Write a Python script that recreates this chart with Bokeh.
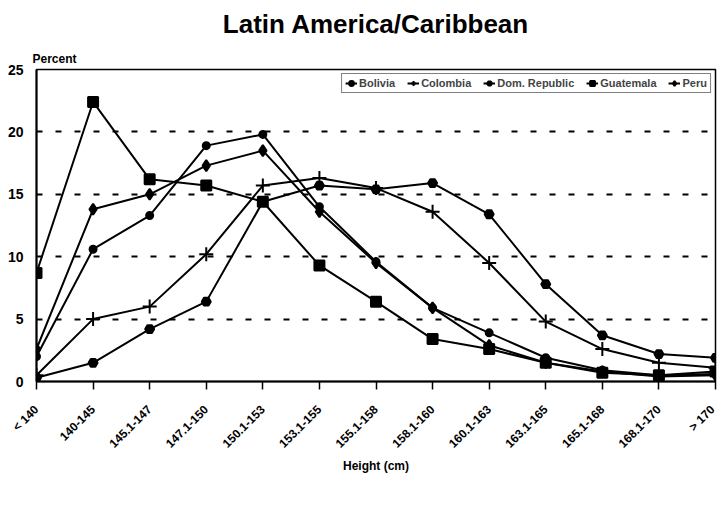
import math
from bokeh.plotting import figure
from bokeh.models import (Legend, LegendItem, FixedTicker, Range1d, Title)
from bokeh.embed import file_html
from bokeh.resources import INLINE

categories = ["< 140", "140-145", "145.1-147", "147.1-150", "150.1-153", "153.1-155",
              "155.1-158", "158.1-160", "160.1-163", "163.1-165", "165.1-168",
              "168.1-170", "> 170"]

bolivia = [2.0, 10.6, 13.3, 18.9, 19.8, 14.0, 9.6, 5.9, 3.9, 1.9, 0.9, 0.5, 0.6]
colombia = [0.5, 5.0, 6.0, 10.2, 15.7, 16.3, 15.5, 13.6, 9.5, 4.8, 2.6, 1.5, 1.1]
dom_republic = [0.3, 1.5, 4.2, 6.4, 14.4, 15.7, 15.4, 15.9, 13.4, 7.8, 3.7, 2.2, 1.9]
guatemala = [8.7, 22.4, 16.2, 15.7, 14.4, 9.3, 6.4, 3.4, 2.6, 1.5, 0.7, 0.5, 0.8]
peru = [2.6, 13.8, 15.0, 17.3, 18.5, 13.6, 9.5, 5.9, 2.9, 1.5, 0.8, 0.4, 0.5]

y_ticks = [0, 5, 10, 15, 20, 25]

FONT = "Liberation Sans"

x = list(range(len(categories)))

p = figure(frame_width=679, frame_height=312,
           output_backend="svg", toolbar_location=None,
           x_range=Range1d(0, len(categories) - 1), y_range=Range1d(0, 25),
           min_border_left=36, min_border_right=2, min_border_top=0,
           min_border_bottom=0)

p.title.text = ""
p.title.visible = False

p.outline_line_color = "black"
p.outline_line_width = 1.5
p.background_fill_color = "white"
p.border_fill_color = "white"

p.xgrid.grid_line_color = None
p.ygrid.grid_line_color = "black"
p.ygrid.grid_line_width = 2
p.ygrid.grid_line_dash = "6 13"
p.ygrid.ticker = FixedTicker(ticks=[5, 10, 15, 20])

p.yaxis.ticker = FixedTicker(ticks=y_ticks)
p.yaxis.major_tick_out = 0
p.yaxis.major_tick_in = 0
p.yaxis.minor_tick_line_color = None
p.yaxis.axis_line_width = 2
p.yaxis.major_label_text_font = FONT
p.yaxis.major_label_text_font_style = "bold"
p.yaxis.major_label_text_font_size = "14px"
p.yaxis.major_label_text_color = "black"
p.yaxis.major_label_standoff = 13

p.xaxis.ticker = FixedTicker(ticks=x)
p.xaxis.major_label_overrides = {i: c for i, c in enumerate(categories)}
p.xaxis.major_label_orientation = math.pi / 4
p.xaxis.major_tick_out = 8
p.xaxis.major_tick_in = 0
p.xaxis.major_tick_line_width = 1.5
p.xaxis.minor_tick_line_color = None
p.xaxis.axis_line_width = 2
p.xaxis.major_label_text_font = FONT
p.xaxis.major_label_text_font_style = "bold"
p.xaxis.major_label_text_font_size = "12px"
p.xaxis.major_label_text_color = "black"
p.xaxis.major_label_standoff = 18
p.xaxis.axis_label = "Height (cm)"
p.xaxis.axis_label_text_font = FONT
p.xaxis.axis_label_text_font_style = "bold"
p.xaxis.axis_label_text_font_size = "12px"
p.xaxis.axis_label_text_color = "black"
p.xaxis.axis_label_standoff = 0

series = [
    ("Bolivia", bolivia, "circle", 7),
    ("Colombia", colombia, "cross", 14),
    ("Dom. Republic", dom_republic, "hex", 9),
    ("Guatemala", guatemala, "square", 10),
    ("Peru", peru, "diamond", 11),
]

items = []
for name, vals, marker, size in series:
    ln = p.line(x, vals, line_color="black", line_width=2)
    sc = p.scatter(x, vals, marker=marker, size=size, fill_color="black",
                   line_color="black", line_width=2)
    items.append(LegendItem(label=name, renderers=[ln, sc]))

legend = Legend(items=items, orientation="horizontal", location="top_right",
                border_line_color="black", border_line_width=1.5,
                label_text_font=FONT, label_text_font_style="bold",
                label_text_font_size="11px", label_height=12,
                glyph_width=12, glyph_height=12,
                spacing=12, padding=3, margin=4, label_standoff=2,
                background_fill_alpha=1)
p.add_layout(legend, "center")

p.add_layout(Title(text="Percent", text_font=FONT, text_font_style="bold",
                   text_font_size="12px", align="left", offset=-4,
                   standoff=8, text_color="black"), "above")
p.add_layout(Title(text="Latin America/Caribbean", text_font=FONT,
                   text_font_style="bold", text_font_size="26px",
                   align="center", offset=-31, standoff=13,
                   text_color="black"), "above")

open("out.html", "w").write(file_html(p, INLINE))
